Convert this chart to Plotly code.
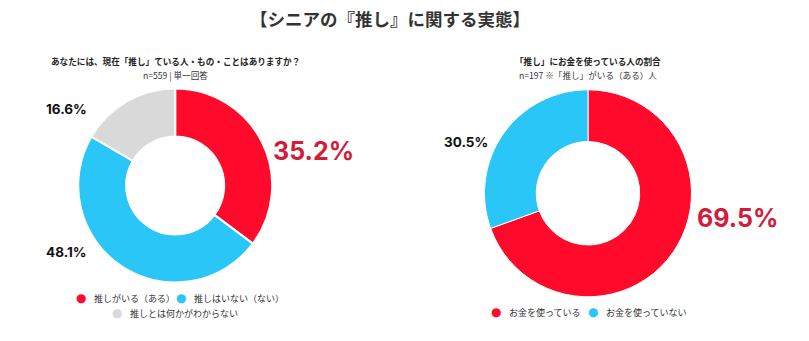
import plotly.graph_objects as go

W, H = 809, 341

title = "【シニアの『推し』に関する実態】"

q1_title = "あなたには、現在「推し」ている人・もの・ことはありますか？"
q1_sub = "n=559 | 単一回答"
q1_labels = ["推しがいる（ある）", "推しはいない（ない）", "推しとは何かがわからない"]
q1_values = [35.2, 48.1, 16.6]
q1_colors = ["#ff0a2a", "#29c6f7", "#d9d9d9"]

q2_title = "「推し」にお金を使っている人の割合"
q2_sub = "n=197 ※「推し」がいる（ある）人"
q2_labels = ["お金を使っている", "お金を使っていない"]
q2_values = [69.5, 30.5]
q2_colors = ["#ff0a2a", "#29c6f7"]

JP = "Noto Sans CJK JP"
NUM = "Inter"


def domain(cx, cy, r):
    cyb = H - cy
    return dict(x=[(cx - r) / W, (cx + r) / W], y=[(cyb - r) / H, (cyb + r) / H])


fig = go.Figure()
fig.add_trace(go.Pie(
    labels=q1_labels, values=q1_values, hole=0.505, sort=False,
    direction="clockwise", rotation=0, textinfo="none", hoverinfo="label+value",
    marker=dict(colors=q1_colors, line=dict(color="white", width=2)),
    domain=domain(175.2, 185.5, 97), showlegend=False,
))
fig.add_trace(go.Pie(
    labels=q2_labels, values=q2_values, hole=0.5, sort=False,
    direction="clockwise", rotation=0, textinfo="none", hoverinfo="label+value",
    marker=dict(colors=q2_colors, line=dict(color="white", width=1)),
    domain=domain(588, 193.3, 103.5), showlegend=False,
))

ann = []


def txt(x, y, s, size, color="#222", font=JP, xanchor="center"):
    ann.append(dict(x=x / W, y=1 - y / H, xref="paper", yref="paper", text=s,
                    showarrow=False, xanchor=xanchor, yanchor="middle",
                    font=dict(family=font, size=size, color=color)))


txt(390, 19, "<b>" + title + "</b>", 17.5, "#333")
txt(175, 61, "<b>" + q1_title + "</b>", 8.6, "#222")
txt(175, 75, q1_sub, 8.6, "#333")
txt(588, 61, "<b>" + q2_title + "</b>", 8.6, "#222")
txt(588, 75, q2_sub, 8.6, "#333")

# percentage labels
txt(313, 151, "<b>%.1f%%</b>" % q1_values[0], 25, "#d41c3a", NUM)
txt(66, 109, "<b>%.1f%%</b>" % q1_values[2], 13.5, "#111", NUM)
txt(66, 252, "<b>%.1f%%</b>" % q1_values[1], 13.5, "#111", NUM)
txt(465.5, 142, "<b>%.1f%%</b>" % q2_values[1], 13.5, "#111", NUM)
txt(737, 218, "<b>%.1f%%</b>" % q2_values[0], 25, "#d41c3a", NUM)


def leg(x, y, label, color):
    txt(x, y, "●", 12, color, "DejaVu Sans")
    txt(x + 11, y, label, 9, "#333", JP, "left")


leg(81, 298, q1_labels[0], q1_colors[0])
leg(181, 298, q1_labels[1], q1_colors[1])
leg(117, 313, q1_labels[2], q1_colors[2])
leg(496, 312, q2_labels[0], q2_colors[0])
leg(593, 312, q2_labels[1], q2_colors[1])

fig.update_layout(
    width=W, height=H, margin=dict(l=0, r=0, t=0, b=0),
    paper_bgcolor="white", plot_bgcolor="white",
    annotations=ann,
)

fig.write_html("out.html", config={"displayModeBar": False})
